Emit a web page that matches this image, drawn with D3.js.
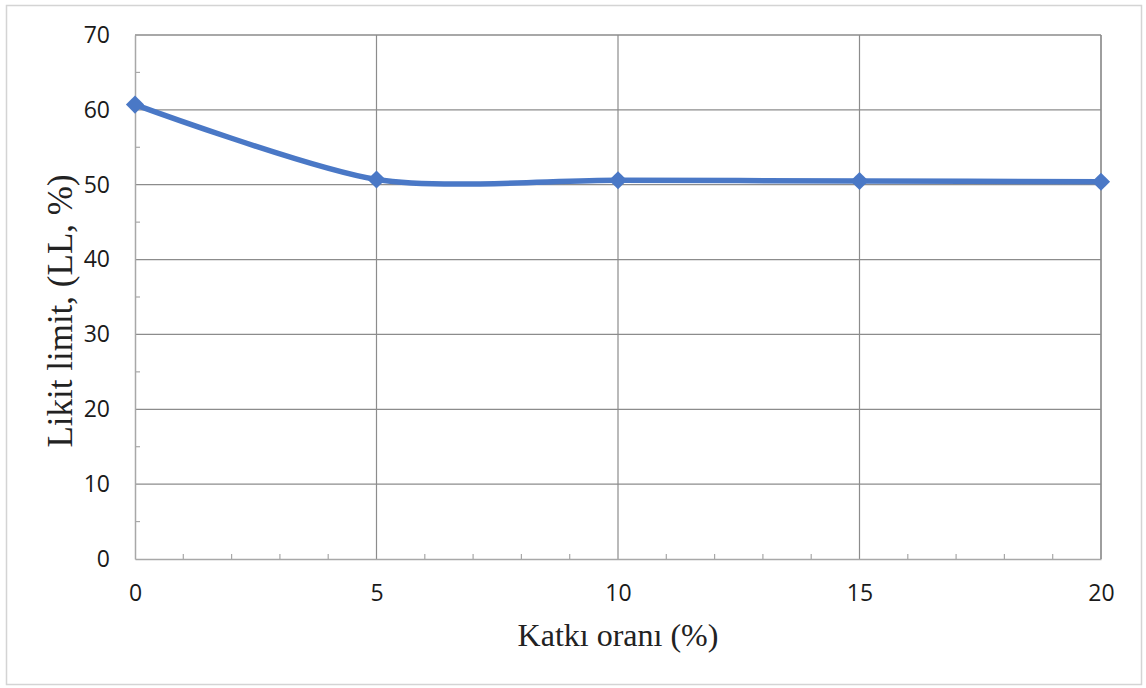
<!DOCTYPE html>
<html><head><meta charset="utf-8">
<script src="https://cdn.jsdelivr.net/npm/d3@7"></script>
<style>body{margin:0;background:#fff}</style>
</head><body>
<svg id="c" width="1146" height="688"></svg>
<script>
const xValues = [0, 5, 10, 15, 20];
const llValues = [60.7, 50.7, 50.6, 50.5, 50.4];
const xTicks = [0, 5, 10, 15, 20];
const yTicks = [0, 10, 20, 30, 40, 50, 60, 70];
const xTitle = "Katkı oranı (%)";
const yTitle = "Likit limit, (LL, %)";

const svg = d3.select("#c");
const L = 135, R = 1101, T = 35, B = 559;
const x = d3.scaleLinear().domain([0, 20]).range([L, R]);
const y = d3.scaleLinear().domain([0, 70]).range([B, T]);

svg.append("rect").attr("x", 6.5).attr("y", 5.5).attr("width", 1135).attr("height", 679)
  .attr("fill", "#fff").attr("stroke", "#d4d4d4").attr("stroke-width", 1.5);

// grid
svg.append("g").selectAll("line").data(yTicks.filter(d => d > 0)).join("line")
  .attr("x1", L).attr("x2", R).attr("y1", d => y(d)).attr("y2", d => y(d))
  .attr("stroke", "#8c8c8c").attr("stroke-width", 1.2);
svg.append("g").selectAll("line").data(xTicks.filter(d => d > 0)).join("line")
  .attr("x1", d => x(d)).attr("x2", d => x(d)).attr("y1", T).attr("y2", B)
  .attr("stroke", "#8c8c8c").attr("stroke-width", 1.2);

// minor ticks
const xMinor = d3.range(0, 21, 1).filter(d => d % 5 !== 0);
svg.append("g").selectAll("line").data(xMinor).join("line")
  .attr("x1", d => x(d)).attr("x2", d => x(d)).attr("y1", B).attr("y2", B - 5)
  .attr("stroke", "#a8a8a8").attr("stroke-width", 1.2);
const yMinor = d3.range(5, 70, 10);
svg.append("g").selectAll("line").data(yMinor).join("line")
  .attr("x1", L).attr("x2", L + 5).attr("y1", d => y(d)).attr("y2", d => y(d))
  .attr("stroke", "#a8a8a8").attr("stroke-width", 1.2);

// axes
const xAxis = svg.append("g").attr("transform", `translate(0,${B})`)
  .call(d3.axisBottom(x).tickValues(xTicks).tickSize(0).tickPadding(26));
const yAxis = svg.append("g").attr("transform", `translate(${L},0)`)
  .call(d3.axisLeft(y).tickValues(yTicks).tickSize(0).tickPadding(25));
[xAxis, yAxis].forEach(a => {
  a.attr("font-size", null).attr("font-family", null);
  a.select(".domain").attr("stroke", "#a8a8a8").attr("stroke-width", 1.5);
  a.selectAll("text").style("font-family", "'Open Sans', 'Liberation Sans', sans-serif")
    .style("font-size", "23px").attr("fill", "#1a1a1a");
});
// top and right frame
svg.append("line").attr("x1", L).attr("x2", R).attr("y1", T).attr("y2", T).attr("stroke", "#8c8c8c").attr("stroke-width", 1.2);
svg.append("line").attr("x1", R).attr("x2", R).attr("y1", T).attr("y2", B).attr("stroke", "#8c8c8c").attr("stroke-width", 1.2);

// line
const data = xValues.map((v, i) => [v, llValues[i]]);
svg.append("path").datum(data)
  .attr("d", d3.line().x(d => x(d[0])).y(d => y(d[1])).curve(d3.curveCardinal.tension(0.2)))
  .attr("fill", "none").attr("stroke", "#4a78c6").attr("stroke-width", 5.5).attr("stroke-linecap", "round");
svg.append("g").selectAll("path").data(data).join("path")
  .attr("d", d3.symbol().type(d3.symbolSquare).size(165))
  .attr("transform", d => `translate(${x(d[0])},${y(d[1])}) rotate(45)`)
  .attr("fill", "#4a78c6");

// titles
svg.append("text").attr("x", 618).attr("y", 646).attr("text-anchor", "middle")
  .style("font-family", "'Liberation Serif', 'Times New Roman', serif").style("font-size", "32px")
  .attr("fill", "#222").text(xTitle);
svg.append("text").attr("transform", `translate(72,311) rotate(-90)`)
  .attr("text-anchor", "middle")
  .style("font-family", "'Liberation Serif', 'Times New Roman', serif").style("font-size", "35px")
  .attr("fill", "#222").text(yTitle);
</script>
</body></html>
